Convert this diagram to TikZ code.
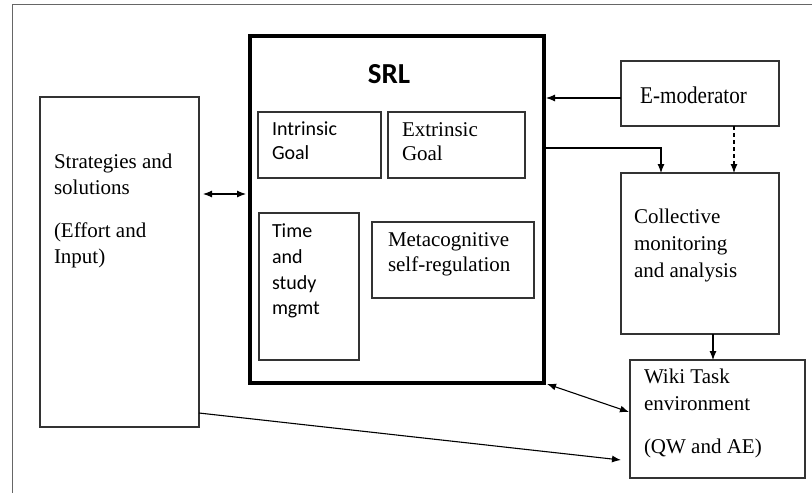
\documentclass[tikz,border=0pt]{standalone}
\usepackage{fontspec}
\setmainfont{Liberation Serif}
\newfontfamily\calibri{Carlito}
\usetikzlibrary{arrows.meta,calc}
\definecolor{linegray}{HTML}{333333}
\definecolor{framegray}{HTML}{666666}
\begin{document}
\begin{tikzpicture}[x=1pt,y=-1pt,
  box/.style={draw=linegray,line width=1.2pt,inner sep=0pt,outer sep=0pt,anchor=north west},
  srlbox/.style={draw=black,line width=4pt,inner sep=0pt,outer sep=0pt,anchor=north west},
  txt/.style={inner sep=0pt,outer sep=0pt,anchor=north west,align=left,text=black},
  serif/.style={font=\fontsize{21}{26}\selectfont},
  sans/.style={font=\calibri\fontsize{20}{25.7}\selectfont},
  arr/.style={draw=black,line width=1.1pt,-{Latex[length=9pt,width=7pt]}},
  darr/.style={draw=black,line width=1.1pt,{Latex[length=9pt,width=7pt]}-{Latex[length=9pt,width=7pt]}},
  frame/.style={draw=framegray,line width=1pt}]
\useasboundingbox (0,0) rectangle (812,493);
\fill[white] (0,0) rectangle (812,493);
% outer frame
\draw[frame] (12,493) -- (12,4) -- (812,4);

% SRL box
\node[srlbox,minimum width=294pt,minimum height=347pt] (srl) at (250,36) {};
\node[inner sep=0pt,anchor=base,font=\calibri\bfseries\fontsize{29}{30}\selectfont] (srlT) at (389,83) {SRL};

\node[box,minimum width=123pt,minimum height=66pt] (intr) at (258,112) {};
\node[txt,sans,font=\calibri\fontsize{20}{24}\selectfont] (intrT) at (272,122) {Intrinsic\\Goal};

\node[box,minimum width=137pt,minimum height=66pt] (extr) at (388,112) {};
\node[txt,font=\fontsize{21}{24}\selectfont] (extrT) at (402,123) {Extrinsic\\Goal};

\node[box,minimum width=100pt,minimum height=147pt] (time) at (259,213) {};
\node[txt,sans] (timeT) at (272,224) {Time\\and\\study\\mgmt};

\node[box,minimum width=162pt,minimum height=76pt] (meta) at (372,222) {};
\node[txt,font=\fontsize{21}{25}\selectfont] (metaT) at (388,233) {Metacognitive\\self-regulation};

% Strategies
\node[box,minimum width=159pt,minimum height=330pt] (strat) at (40,97) {};
\node[txt,font=\fontsize{21}{25.5}\selectfont] (stratT) at (54,154) {Strategies and\\solutions\\[18pt](Effort and\\Input)};

% E-moderator
\node[box,minimum width=158pt,minimum height=65pt] (emod) at (621,61) {};
\node[inner sep=0pt,anchor=base west,font=\fontsize{24}{26}\selectfont] (emodT) at (640,103) {\scalebox{0.88}[1]{E-moderator}};

% Collective
\node[box,minimum width=158pt,minimum height=161pt] (coll) at (621,173) {};
\node[txt,font=\fontsize{21}{27}\selectfont] (collT) at (634,209) {Collective\\monitoring\\and analysis};

% Wiki
\node[box,minimum width=175pt,minimum height=118pt] (wiki) at (630,360) {};
\node[txt,font=\fontsize{21}{27}\selectfont] (wikiT) at (644,369) {Wiki Task\\environment\\[16pt](QW and AE)};

% connectors
\coordinate (emodL) at (emod.west |- 0,98);
\coordinate (srlE1) at (srl.east |- 0,98);
\draw[arr] (emodL) -- ($(srlE1)+(2,0)$);

\coordinate (srlE2) at ($(srl.east |- 0,148)+(2,0)$);
\coordinate (collN1) at (661,173);
\draw[arr] (srlE2) -| (collN1);

\coordinate (emodS) at (734,126);
\coordinate (collN2) at (734,173);
\draw[arr,dashed,dash pattern=on 4pt off 3pt] (emodS) -- (collN2);

\coordinate (collS) at (713,334);
\coordinate (wikiN) at (713,360);
\draw[arr] (collS) -- (wikiN);

\coordinate (stratE) at (203,194);
\coordinate (srlW) at (246,194);
\draw[darr] (stratE) -- (srlW);

\coordinate (srlSE) at (547,384);
\coordinate (wikiW1) at (629,412);
\draw[darr] (srlSE) -- (wikiW1);

\coordinate (stratSE) at (199,413);
\coordinate (wikiW2) at (621,460);
\draw[arr] (stratSE) -- (wikiW2);
\end{tikzpicture}
\end{document}
